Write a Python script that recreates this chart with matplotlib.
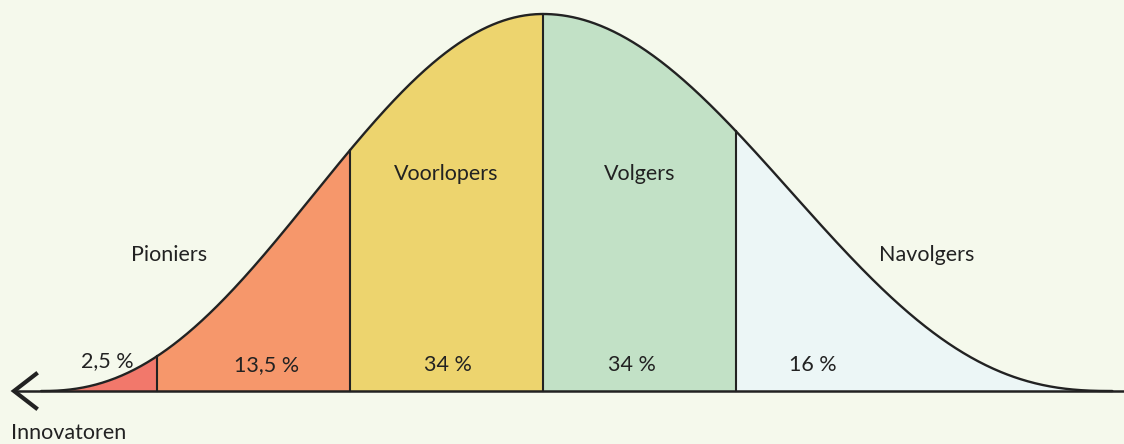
import matplotlib.pyplot as plt
import numpy as np

# adopter categories (Rogers), boundaries in standard deviations
groups = ["Innovatoren", "Pioniers", "Voorlopers", "Volgers", "Navolgers"]
shares = ["2,5 %", "13,5 %", "34 %", "34 %", "16 %"]
bounds = [-2.0, -1.0, 0.0, 1.0]
colors = ["#f2786b", "#f6976b", "#edd46e", "#c2e1c6", "#ecf6f6"]

# stylised bell: raised cosine per side (half-width L, power k)
left_L, left_k = 2.6, 1.15
right_L, right_k = 2.95, 1.25


def bell(z):
    z = np.asarray(z, dtype=float)
    L = np.where(z < 0, left_L, right_L)
    k = np.where(z < 0, left_k, right_k)
    zz = np.clip(np.abs(z) / L, 0, 1)
    return ((1 + np.cos(np.pi * zz)) / 2) ** k


ink = "#222222"
bg = "#f5f9ec"
plt.rcParams['font.family'] = ['Lato', 'DejaVu Sans']
fs = 15.5

fig = plt.figure(figsize=(11.24, 4.44), dpi=100, facecolor=bg)
ax = fig.add_axes([0, 0, 1, 1])
ax.set_facecolor(bg)
ax.set_xlim(-543 / 193, 581 / 193)
ax.set_ylim(-53 / 377, 391 / 377)
ax.axis('off')

edges = [-left_L] + bounds + [right_L]
for i, c in enumerate(colors):
    zs = np.linspace(edges[i], edges[i + 1], 200)
    ax.fill_between(zs, 0, bell(zs), color=c, lw=0, zorder=1)

zs = np.linspace(-left_L, right_L, 1000)
ax.plot(zs, bell(zs), color=ink, lw=1.7, zorder=3, solid_capstyle='round')
for b in bounds:
    ax.plot([b, b], [0, bell(b)], color=ink, lw=1.5, zorder=3)

# baseline with arrow to the left
x0, x1 = ax.get_xlim()
tip = x0 + 14 / 193
ax.plot([tip, x1], [0, 0], color=ink, lw=1.8, zorder=4)
ax.plot([tip + 22 / 193, tip, tip + 22 / 193], [17 / 377, 0, -17 / 377],
        color=ink, lw=3.0, zorder=5, solid_joinstyle='miter')

# labels
name_pos = {
    "Pioniers": (-1.94, 0.36),
    "Voorlopers": (-0.50, 0.575),
    "Volgers": (0.50, 0.575),
    "Navolgers": (1.99, 0.36),
}
for name, (x, y) in name_pos.items():
    ax.text(x, y, name, ha='center', va='center', fontsize=fs, color=ink)
ax.text(x0 + 11 / 193, -42 / 377, groups[0], ha='left', va='center',
        fontsize=fs, color=ink)

share_x = [-2.26, -1.43, -0.49, 0.46, 1.40]
share_y = [0.08, 0.07, 0.07, 0.07, 0.07]
for s, x, y in zip(shares, share_x, share_y):
    ax.text(x, y, s, ha='center', va='center', fontsize=fs, color=ink)

plt.savefig('out.png', dpi=100, facecolor=bg)
